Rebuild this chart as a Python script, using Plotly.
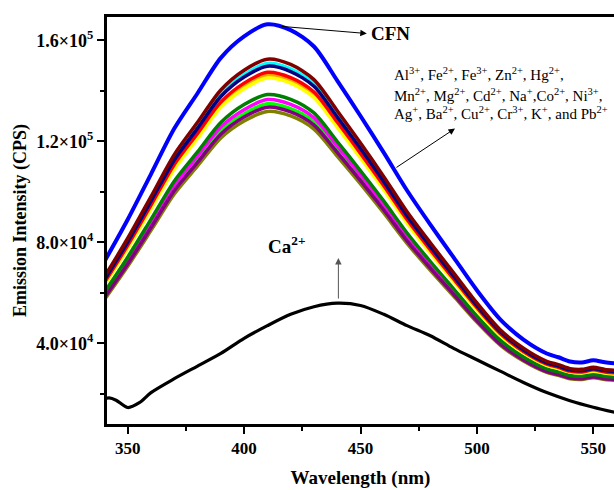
import plotly.graph_objects as go

wavelength = [340, 350, 360, 370, 380, 390, 400, 410, 420, 430, 440, 450, 460, 470,
              480, 490, 500, 510, 520, 530, 535, 540, 545, 550, 555, 560]

cfn = [72400, 89000, 107000, 125000, 139000, 153000, 161500, 166300, 164000, 157500, 144000,
       130000, 115500, 100500, 87000, 74000, 61000, 49500, 41500, 36000, 34500, 32800, 32400,
       33300, 32500, 32000]

maroon = [66300, 81600, 98100, 114700, 127500, 140300, 148100, 152500, 150400, 144400, 132100,
          119300, 106000, 92100, 79800, 67900, 56000, 45400, 38100, 32900, 31600, 30000, 29700,
          30500, 29700, 29300]
cyan = [65600, 80700, 97000, 113400, 126100, 138700, 146400, 150800, 148700, 142800, 130600,
        117900, 104800, 91100, 78900, 67100, 55300, 44900, 37700, 32600, 31200, 29700, 29400,
        30200, 29400, 29000]
navy = [65100, 80100, 96300, 112600, 125100, 137700, 145400, 149700, 147600, 141800, 129600,
        117100, 104000, 90400, 78300, 66600, 54900, 44600, 37400, 32300, 31000, 29500, 29200,
        29900, 29200, 28700]
red = [64100, 78800, 94700, 110800, 123100, 135500, 143000, 147300, 145200, 139500, 127600,
       115200, 102400, 89000, 77000, 65500, 54100, 43900, 36800, 31800, 30500, 29000, 28700,
       29500, 28700, 28300]
orange = [63600, 78200, 94000, 109900, 122200, 134500, 142000, 146200, 144200, 138500, 126600,
          114300, 101600, 88300, 76500, 65100, 53700, 43600, 36600, 31600, 30300, 28800, 28500,
          29200, 28500, 28100]
yellow = [63100, 77600, 93200, 109000, 121200, 133400, 140800, 145000, 143000, 137300, 125600,
          113400, 100800, 87600, 75800, 64500, 53200, 43200, 36300, 31300, 30000, 28600, 28300,
          29000, 28300, 27800]
green = [60200, 74100, 89100, 104200, 115800, 127400, 134500, 138500, 136600, 131200, 119900,
         108300, 96300, 83700, 72400, 61600, 50800, 41300, 34600, 29900, 28700, 27300, 27000,
         27700, 27000, 26600]
magenta = [59400, 73000, 87800, 102600, 114100, 125600, 132500, 136500, 134600, 129300, 118200,
           106700, 94900, 82400, 71400, 60700, 50100, 40700, 34100, 29500, 28300, 26900, 26600,
           27300, 26600, 26200]
lime = [58600, 72100, 86700, 101400, 112700, 124000, 130900, 134800, 132900, 127700, 116700,
        105400, 93700, 81400, 70500, 60000, 49500, 40200, 33700, 29100, 27900, 26600, 26300,
        27000, 26300, 25900]
purple = [58100, 71400, 85800, 100400, 111600, 122800, 129600, 133500, 131600, 126400, 115600,
          104400, 92800, 80600, 69800, 59400, 49000, 39800, 33400, 28800, 27600, 26300, 26000,
          26700, 26000, 25600]
olive = [57300, 70500, 84700, 99100, 110200, 121300, 128000, 131800, 130000, 124800, 114100,
         103100, 91600, 79600, 68900, 58700, 48400, 39300, 33000, 28500, 27300, 26000, 25700,
         26400, 25700, 25300]

ca_wavelength = [340, 342, 345, 350, 355, 360, 370, 380, 390, 400, 410, 420, 430, 440, 450,
                 460, 470, 480, 490, 500, 510, 520, 530, 540, 550, 560]
ca = [18000, 18400, 17500, 14600, 16500, 20500, 26000, 31000, 36000, 42000, 47000, 51500,
      54500, 55900, 55000, 51500, 47000, 43000, 38000, 33500, 29000, 24500, 20500, 17300,
      14700, 12500]

ion_series = [
    (cyan, "#00FFFF"), (orange, "#FFA500"), (lime, "#00FF00"), (magenta, "#FF00FF"),
    (olive, "#808000"), (purple, "#800080"), (green, "#008000"), (yellow, "#FFFF00"),
    (red, "#FF0000"), (navy, "#000080"), (maroon, "#800000"),
]

x_ticks = [350, 400, 450, 500, 550]
x_minor = [375, 425, 475, 525]
y_ticks = [40000, 80000, 120000, 160000]
y_minor = [20000, 60000, 100000, 140000]
y_ticktext = ["4.0×10<sup>4</sup>", "8.0×10<sup>4</sup>", "1.2×10<sup>5</sup>", "1.6×10<sup>5</sup>"]

fig = go.Figure()
for vals, col in ion_series:
    fig.add_trace(go.Scatter(x=wavelength, y=vals, mode="lines",
                             line=dict(color=col, width=3.5, shape="spline", smoothing=0.8),
                             showlegend=False, hoverinfo="skip"))
fig.add_trace(go.Scatter(x=wavelength, y=cfn, mode="lines",
                         line=dict(color="#0000FF", width=4, shape="spline", smoothing=0.8),
                         showlegend=False))
fig.add_trace(go.Scatter(x=ca_wavelength, y=ca, mode="lines",
                         line=dict(color="#000000", width=3.2, shape="spline", smoothing=0.8),
                         showlegend=False))

serif = "Liberation Serif, Times New Roman, serif"
ion_font = dict(family=serif, size=15, color="black")

annotations = [
    dict(x=452.7, y=162640, ax=415.4, ay=165520, axref="x", ayref="y", xref="x", yref="y",
         text="", showarrow=True, arrowhead=2, arrowsize=1.3, arrowwidth=1, arrowcolor="black", standoff=0),
    dict(x=453.8, y=162560, text="<b>CFN</b>", showarrow=False, xanchor="left", yanchor="middle",
         font=dict(family=serif, size=19, color="black")),
    dict(x=463.5, y=146600, xanchor="left", yanchor="middle", showarrow=False,
         text="Al<sup>3+</sup>, Fe<sup>2+</sup>, Fe<sup>3+</sup>, Zn<sup>2+</sup>, Hg<sup>2+</sup>,",
         font=ion_font),
    dict(x=463.5, y=138350, xanchor="left", yanchor="middle", showarrow=False,
         text="Mn<sup>2+</sup>, Mg<sup>2+</sup>, Cd<sup>2+</sup>, Na<sup>+</sup>,Co<sup>2+</sup>, Ni<sup>3+</sup>,",
         font=ion_font),
    dict(x=463.5, y=130990, xanchor="left", yanchor="middle", showarrow=False,
         text="Ag<sup>+</sup>, Ba<sup>2+</sup>, Cu<sup>2+</sup>, Cr<sup>3+</sup>, K<sup>+</sup>, and Pb<sup>2+</sup>",
         font=ion_font),
    dict(x=490.6, y=125050, ax=464.8, ay=109230, axref="x", ayref="y", xref="x", yref="y",
         text="", showarrow=True, arrowhead=2, arrowsize=1.3, arrowwidth=1, arrowcolor="black", standoff=0),
    dict(x=440.5, y=73745, ax=440.5, ay=57130, axref="x", ayref="y", xref="x", yref="y",
         text="", showarrow=True, arrowhead=2, arrowsize=1.3, arrowwidth=1, arrowcolor="#555555", standoff=0),
    dict(x=418.4, y=78890, text="<b>Ca<sup>2+</sup></b>", showarrow=False, xanchor="center", yanchor="middle",
         font=dict(family=serif, size=19, color="black")),
]

fig.update_layout(
    width=614, height=490,
    margin=dict(l=107, r=0, t=17, b=66),
    paper_bgcolor="white", plot_bgcolor="white",
    font=dict(family=serif, color="black"),
    annotations=annotations,
    showlegend=False,
)
fig.update_xaxes(
    range=[341.1, 558.9], showgrid=False, zeroline=False,
    showline=True, linecolor="black", linewidth=3, mirror=True,
    ticks="outside", ticklen=7, tickwidth=2, tickcolor="black",
    tickvals=x_ticks, ticktext=[str(v) for v in x_ticks],
    tickfont=dict(family=serif, size=17, color="black", weight="bold"),
    minor=dict(tickvals=x_minor, ticks="outside", ticklen=4, tickwidth=2, tickcolor="black"),
    title=dict(text="<b>Wavelength (nm)</b>", font=dict(family=serif, size=19, color="black"), standoff=14),
)
fig.update_yaxes(
    range=[8075, 169180], showgrid=False, zeroline=False,
    showline=True, linecolor="black", linewidth=3, mirror=False,
    ticks="outside", ticklen=7, tickwidth=2, tickcolor="black",
    tickvals=y_ticks, ticktext=y_ticktext,
    tickfont=dict(family=serif, size=18, color="black", weight="bold"),
    minor=dict(tickvals=y_minor, ticks="outside", ticklen=4, tickwidth=2, tickcolor="black"),
    title=dict(text="<b>Emission Intensity (CPS)</b>", font=dict(family=serif, size=18, color="black"), standoff=6),
)

fig.write_html("out.html", config={"displayModeBar": False},
               post_script="document.body.style.margin='0';document.body.style.overflow='hidden';")
